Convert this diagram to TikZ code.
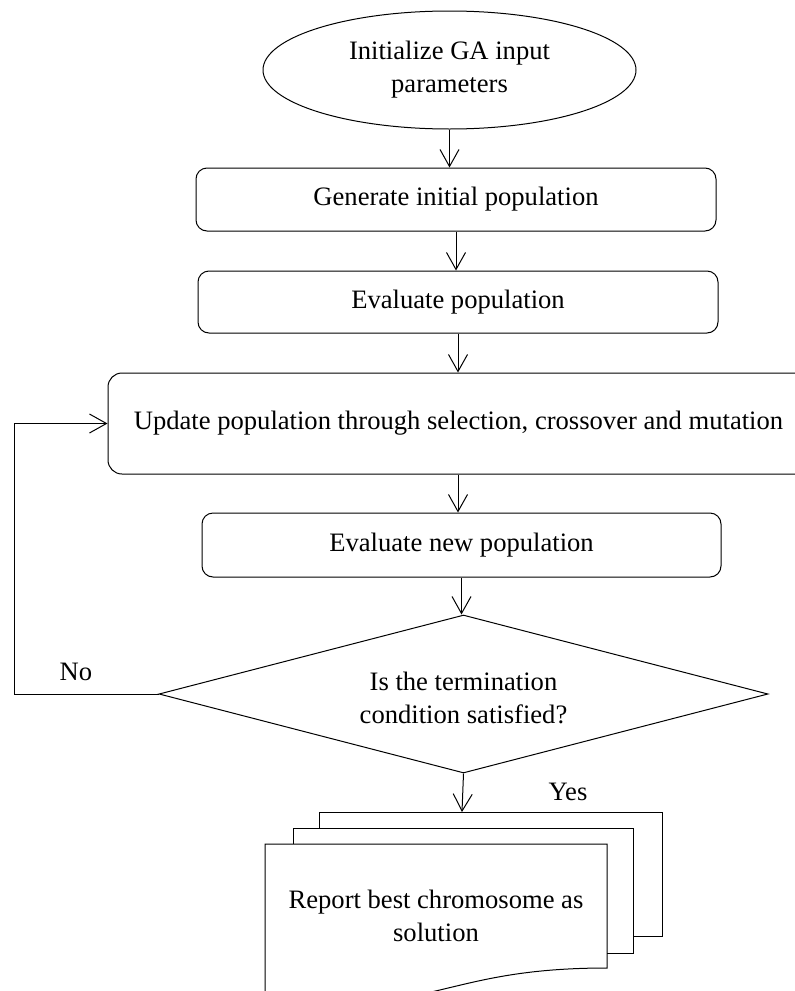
\documentclass[tikz,border=0pt]{standalone}
\usepackage{fontspec}
\setmainfont{Liberation Serif}
\usetikzlibrary{arrows.meta,shapes.geometric}
\tikzset{
  ln/.style={line width=1pt, draw=black},
  arr/.style={ln, -{Straight Barb[length=17pt,width=19pt,line width=1pt]}},
  procbox/.style={ln, rectangle, rounded corners=11pt, inner sep=0pt, align=center},
  lbl/.style={inner sep=0pt, align=center}
}
\begin{document}
\begin{tikzpicture}[x=1pt,y=-1pt,font=\fontsize{26.6}{33}\selectfont]
\useasboundingbox (0,0) rectangle (795,991);
\clip (0,0) rectangle (795,991);

\node[ln, ellipse, minimum width=373pt, minimum height=118pt, inner sep=0pt, align=center] (init) at (449.5,70) {Initialize GA input\\parameters};
\node[procbox, minimum width=520pt, minimum height=63pt] (gen) at (456,199.5) {Generate initial population};
\node[procbox, minimum width=520pt, minimum height=62pt] (eval) at (458,302) {Evaluate population};
\node[procbox, rounded corners=14pt, minimum width=760pt, minimum height=101pt] (upd) at (488,423.5) {};
\node[lbl] (updtext) at (458.5,423) {Update population through selection, crossover and mutation};
\node[procbox, minimum width=519pt, minimum height=64pt] (evn) at (461.5,545) {Evaluate new population};
\node[ln, diamond, shape aspect=3.85, minimum width=609pt, minimum height=158pt, inner sep=0pt] (dec) at (463.5,694) {};
\node[lbl] (dectext) at (463.5,698) {Is the termination\\condition satisfied?};

% multi-document
\coordinate (docTop) at (462,812);
\draw[ln] (319,828) -- (319,812) -- (662,812) -- (662,936) -- (633,936);
\draw[ln] (293,844) -- (293,828) -- (633,828) -- (633,953) -- (607,953);
\draw[ln] (265,1000) -- (265,844) -- (607,844) -- (607,968)
  .. controls (436,968) and (436,1020) .. (265,995);
\node[lbl] (rep) at (436,916) {Report best chromosome as\\solution};

\node[lbl] (yes) at (568,792) {Yes};
\node[lbl] (no) at (76,672) {No};

\draw[arr] (init.south) -- (init.south |- gen.north);
\draw[arr] (gen.south) -- (gen.south |- eval.north);
\draw[arr] (eval.south) -- (eval.south |- upd.north);
\draw[arr] (eval.south |- upd.south) -- (eval.south |- evn.north);
\draw[arr] (evn.south) -- (evn.south |- dec.north);
\draw[arr] (dec.south) -- (docTop);
\coordinate (loop) at (14.7,694);
\draw[arr] (dec.west) -- (loop) |- (upd.west);
\end{tikzpicture}
\end{document}
